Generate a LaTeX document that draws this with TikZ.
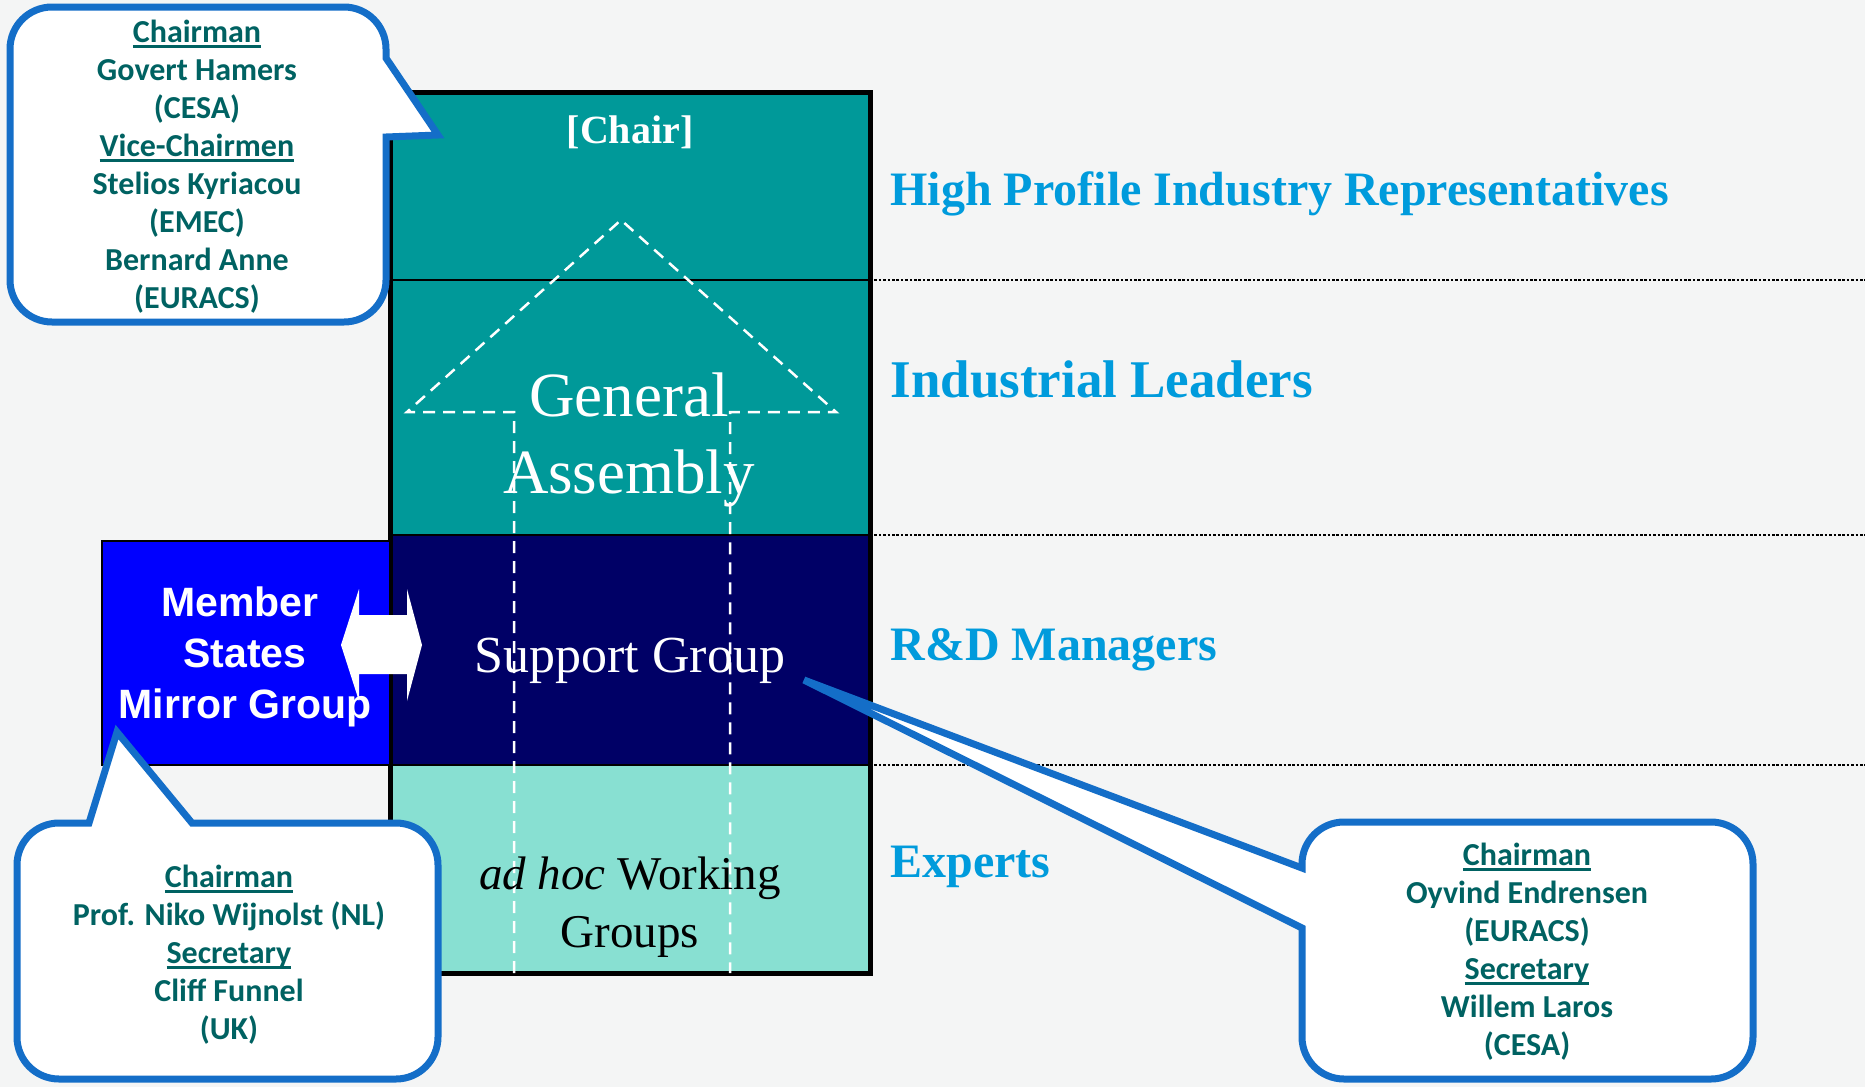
\documentclass[tikz,border=0pt]{standalone}
\usepackage{fontspec}
\setmainfont{Liberation Serif}
\newfontfamily\calibfont{Carlito}
\newfontfamily\arialfont{Liberation Sans}

\definecolor{paper}{RGB}{244,245,245}
\definecolor{tealband}{RGB}{0,153,153}
\definecolor{navyband}{RGB}{0,0,102}
\definecolor{lightband}{RGB}{136,224,210}
\definecolor{mirrorblue}{RGB}{0,0,255}
\definecolor{levelblue}{RGB}{0,155,220}
\definecolor{calloutblue}{RGB}{20,110,200}
\definecolor{callouttext}{RGB}{0,98,98}

\newcommand\ulabel[1]{\setbox0\hbox{#1}\rlap{\rule[-5pt]{\wd0}{2.5pt}}\box0}

\begin{document}
\begin{tikzpicture}[x=1pt,y=-1pt,
  band/.style={draw=black,line width=2.5pt},
  level line/.style={line width=2.6pt,dash pattern=on 2.6pt off 1.8pt},
  level label/.style={anchor=base west,text=levelblue,font=\fontsize{48}{56}\selectfont\bfseries},
  white text/.style={anchor=base,text=white,inner sep=0pt},
  mirror text/.style={anchor=base,text=white,inner sep=0pt,font=\arialfont\bfseries\fontsize{41}{51}\selectfont},
  callout/.style={draw=calloutblue,fill=white,line width=7pt},
  callout text/.style={anchor=north,align=center,inner sep=0pt,text=callouttext,font=\calibfont\bfseries\fontsize{32}{38}\selectfont}]
  \fill[paper] (0,0) rectangle (1865,1087);
  \useasboundingbox (0,0) rectangle (1865,1087);

  \draw[band,fill=tealband] (390,92) rectangle (870,280);
  \draw[band,fill=tealband] (390,280) rectangle (870,535);
  \draw[band,fill=navyband] (390,535) rectangle (870,765);
  \draw[band,fill=lightband] (390,765) rectangle (870,973);
  \draw[line width=5pt] (390,92) rectangle (870,973);
  \draw[fill=mirrorblue,line width=2pt] (102,541) rectangle (390,765);

  \draw[level line] (870,280) -- (1865,280);
  \draw[level line] (870,535) -- (1865,535);
  \draw[level line] (870,765) -- (1865,765);

  \node[level label] (high) at (887,205) {High Profile Industry Representatives};
  \node[level label,font=\fontsize{53}{62}\selectfont\bfseries] (lead) at (887,397) {Industrial Leaders};
  \node[level label] (rnd) at (887,660) {R\&D Managers};
  \node[level label] (expert) at (887,877) {Experts};

  \draw[white,line width=2.5pt,dash pattern=on 12pt off 8pt]
    (514,973) -- (514,412) -- (407,412) -- (621,220) -- (836,412) -- (730,412) -- (730,973);

  \node[white text,font=\fontsize{40}{48}\selectfont\bfseries] (chair) at (630,143) {[Chair]};
  \node[white text,font=\fontsize{63}{77}\selectfont] (ga top) at (629,416) {General};
  \node[white text,font=\fontsize{63}{77}\selectfont] (ga bottom) at (629,493) {Assembly};
  \node[white text,font=\fontsize{52}{62}\selectfont] (support) at (630,672) {Support Group};
  \node[anchor=base,inner sep=0pt,font=\fontsize{47}{58}\selectfont] (wg top) at (630,889) {\textit{ad hoc} Working};
  \node[anchor=base,inner sep=0pt,font=\fontsize{47}{58}\selectfont] (wg bottom) at (630,947) {Groups};

  \node[mirror text] (member) at (240,616) {Member};
  \node[mirror text] (states) at (245,667) {States};
  \node[mirror text] (mirror) at (245,718) {Mirror Group};

  \fill[white] (341,645) -- (359,589) -- (359,615) -- (407,615) -- (407,589) -- (422,645)
    -- (407,701) -- (407,674) -- (359,674) -- (359,701) -- cycle;

  \draw[callout] (10,160) -- (10,49) arc[start angle=180,end angle=90,radius=42pt] -- (344,7)
    arc[start angle=90,end angle=0,radius=42pt] -- (386,58) -- (438,135) -- (386,137)
    -- (386,280) arc[start angle=0,end angle=-90,radius=42pt] -- (52,322)
    arc[start angle=-90,end angle=-180,radius=42pt] -- cycle;
  \node[callout text] (board) at (197,20) {\ulabel{Chairman}\\Govert Hamers\\(CESA)\\\ulabel{Vice-Chairmen}\\Stelios Kyriacou\\(EMEC)\\Bernard Anne\\(EURACS)};

  \draw[callout] (17,950) -- (17,865) arc[start angle=180,end angle=90,radius=42pt] -- (89,823)
    -- (117,732) -- (192,823) -- (396,823) arc[start angle=90,end angle=0,radius=42pt]
    -- (438,1037) arc[start angle=0,end angle=-90,radius=42pt] -- (59,1079)
    arc[start angle=-90,end angle=-180,radius=42pt] -- cycle;
  \node[callout text] (mirror board) at (229,865) {\ulabel{Chairman}\\Prof. Niko Wijnolst (NL)\\\ulabel{Secretary}\\Cliff Funnel\\(UK)};

  \draw[callout] (1500,822) -- (1711,822) arc[start angle=90,end angle=0,radius=42pt]
    -- (1753,1037) arc[start angle=0,end angle=-90,radius=42pt] -- (1344,1079)
    arc[start angle=-90,end angle=-180,radius=42pt] -- (1302,928) -- (804,680) -- (1302,868)
    -- (1302,864) arc[start angle=180,end angle=90,radius=42pt] -- cycle;
  \node[callout text] (support board) at (1527,843) {\ulabel{Chairman}\\Oyvind Endrensen\\(EURACS)\\\ulabel{Secretary}\\Willem Laros\\(CESA)};
\end{tikzpicture}
\end{document}
